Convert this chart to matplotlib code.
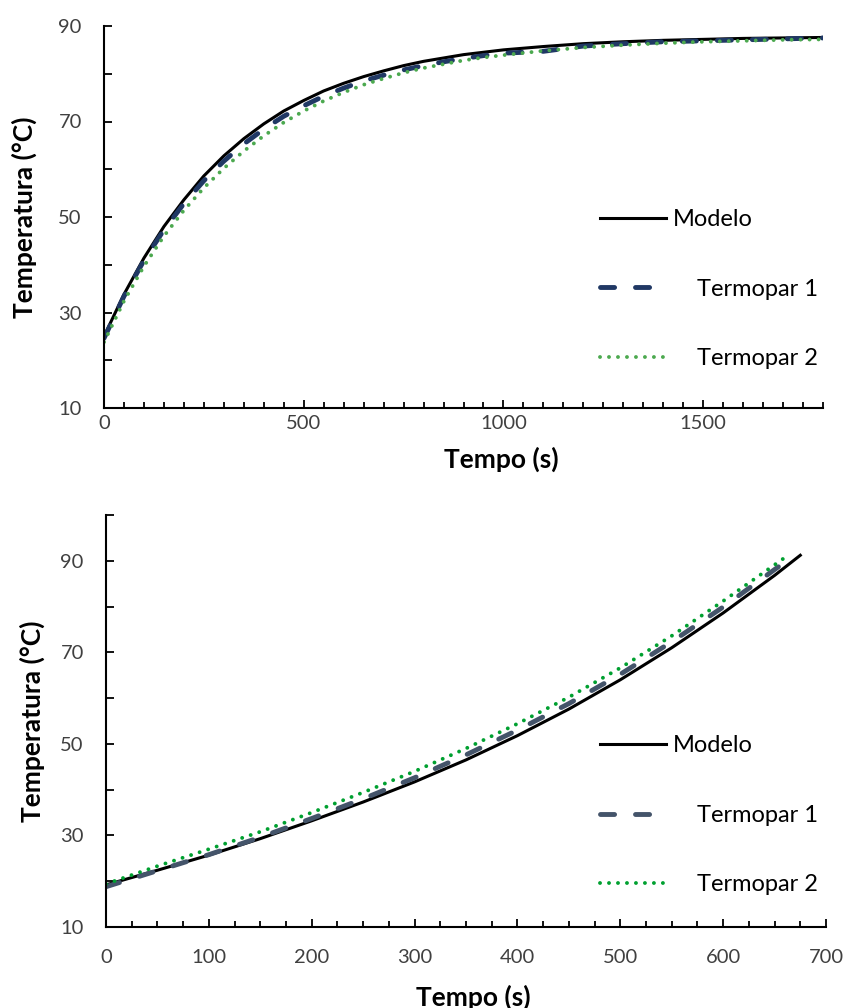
import matplotlib.pyplot as plt
from matplotlib.ticker import MultipleLocator, FixedLocator

plt.rcParams['font.family'] = ['Lato', 'DejaVu Sans']

# grafico de cima (aquecimento)
tempo_a = [0, 50, 100, 150, 200, 250, 300, 350, 400, 450, 500, 550, 600, 650, 700,
           750, 800, 850, 900, 950, 1000, 1100, 1200, 1300, 1400, 1500, 1600, 1700, 1800]
modelo_a = [25.0, 33.8, 41.4, 48.0, 53.6, 58.6, 62.8, 66.4, 69.5, 72.2, 74.4, 76.4, 78.0, 79.4, 80.6,
            81.7, 82.6, 83.3, 84.0, 84.5, 85.0, 85.7, 86.3, 86.7, 87.0, 87.2, 87.4, 87.5, 87.6]
termopar1_a = [24.6, 33.4, 40.9, 47.3, 52.8, 57.6, 61.7, 65.3, 68.4, 71.1, 73.3, 75.3, 77.0, 78.5, 79.7,
               80.8, 81.7, 82.5, 83.2, 83.8, 84.3, 84.7, 85.8, 86.3, 86.7, 86.9, 87.1, 87.3, 87.5]
termopar2_a = [23.8, 32.4, 39.7, 46.0, 51.4, 56.1, 60.2, 63.8, 67.0, 69.8, 72.2, 74.3, 76.1, 77.7, 79.0,
               80.2, 81.2, 82.0, 82.8, 83.4, 83.9, 84.8, 85.5, 86.0, 86.4, 86.7, 86.9, 87.1, 87.2]

# grafico de baixo
tempo_b_mod = [0, 50, 100, 150, 200, 250, 300, 350, 400, 450, 500, 550, 600, 650, 675]
modelo_b = [19.2, 22.4, 25.7, 29.3, 33.2, 37.3, 41.7, 46.5, 51.8, 57.6, 64.0, 71.0, 78.6, 86.8, 91.2]
tempo_b_t1 = [0, 50, 100, 150, 200, 250, 300, 350, 400, 450, 500, 550, 600, 655]
termopar1_b = [18.8, 22.3, 25.8, 29.6, 33.7, 38.0, 42.6, 47.6, 53.0, 58.8, 65.2, 72.3, 79.9, 88.9]
tempo_b_t2 = [0, 50, 100, 150, 200, 250, 300, 350, 400, 450, 500, 550, 600, 660]
termopar2_b = [19.4, 23.3, 27.0, 30.8, 35.0, 39.4, 44.0, 49.0, 54.4, 60.2, 66.6, 73.6, 81.2, 90.7]

fig = plt.figure(figsize=(8.52, 10.08), dpi=100)
ax1 = fig.add_axes([104/852, 600/1008, 719/852, 382/1008])
ax2 = fig.add_axes([106/852, 81/1008, 720/852, 412/1008])

dash = (0, (2.9, 4.3))
dot = (0, (0.01, 2.3))

ax1.plot(tempo_a, modelo_a, color='black', lw=2.2, label='Modelo')
ax1.plot(tempo_a, termopar1_a, color='#203864', lw=3.5, linestyle=dash,
         dash_capstyle='round', label='    Termopar 1')
ax1.plot(tempo_a, termopar2_a, color='#4CA94F', lw=2.8, linestyle=dot,
         dash_capstyle='round', label='    Termopar 2')

ax2.plot(tempo_b_mod, modelo_b, color='black', lw=2.2, label='Modelo')
ax2.plot(tempo_b_t1, termopar1_b, color='#44546A', lw=3.5, linestyle=dash,
         dash_capstyle='round', label='    Termopar 1')
ax2.plot(tempo_b_t2, termopar2_b, color='#00A030', lw=2.8, linestyle=dot,
         dash_capstyle='round', label='    Termopar 2')

ax1.set_xlim(0, 1800)
ax1.set_ylim(10, 90)
ax1.xaxis.set_major_locator(MultipleLocator(500))
ax1.xaxis.set_minor_locator(MultipleLocator(50))
ax1.yaxis.set_major_locator(FixedLocator([10, 30, 50, 70, 90]))
ax1.yaxis.set_minor_locator(FixedLocator([20, 40, 60, 80]))

ax2.set_xlim(0, 700)
ax2.set_ylim(10, 100)
ax2.xaxis.set_major_locator(MultipleLocator(100))
ax2.xaxis.set_minor_locator(MultipleLocator(25))
ax2.yaxis.set_major_locator(FixedLocator([10, 30, 50, 70, 90]))
ax2.yaxis.set_minor_locator(FixedLocator([20, 40, 60, 80, 100]))

for ax in (ax1, ax2):
    for s in ('top', 'right'):
        ax.spines[s].set_visible(False)
    for s in ('left', 'bottom'):
        ax.spines[s].set_linewidth(1.5)
    ax.tick_params(which='both', direction='in', width=1.3, labelsize=14.5,
                   color='black', labelcolor='#404040')
    ax.tick_params(axis='x', which='major', length=6)
    ax.tick_params(axis='x', which='minor', length=4.5)
    ax.tick_params(axis='y', which='both', length=5.5, pad=16)
    ax.set_xlabel('Tempo (s)', fontsize=19, fontweight='bold')
    ax.set_ylabel('Temperatura (°C)', fontsize=19, fontweight='bold')

ax1.tick_params(axis='x', which='both', pad=5)
ax2.tick_params(axis='x', which='both', pad=16)
ax1.xaxis.set_label_coords(0.552, -0.10)
ax2.xaxis.set_label_coords(0.51, -0.14)
ax1.yaxis.set_label_coords(-0.093, 0.5)
ax2.yaxis.set_label_coords(-0.085, 0.5)

ax1.legend(loc='upper left', bbox_to_anchor=(0.69, 0.52), frameon=False, fontsize=17,
           handlelength=2.8, handletextpad=0.3, labelspacing=2.05, borderpad=0, borderaxespad=0)
ax2.legend(loc='upper left', bbox_to_anchor=(0.686, 0.465), frameon=False, fontsize=17,
           handlelength=2.8, handletextpad=0.3, labelspacing=2.05, borderpad=0, borderaxespad=0)

fig.savefig('out.png', dpi=100)
